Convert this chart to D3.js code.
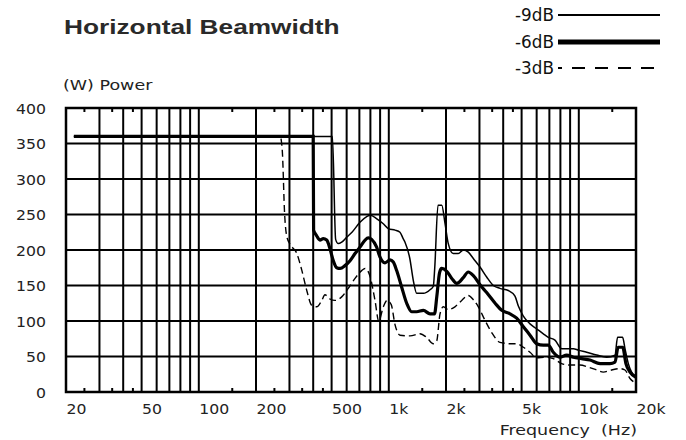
<!DOCTYPE html>
<html>
<head>
<meta charset="utf-8">
<script src="https://cdn.jsdelivr.net/npm/d3@7/dist/d3.min.js"></script>
<style>
  body { margin: 0; background: #fff; }
</style>
</head>
<body>
<div id="chart"></div>
<script>
// Axis values
var yTicks = [0, 50, 100, 150, 200, 250, 300, 350, 400];
var xTickValues = [20, 50, 100, 200, 500, 1000, 2000, 5000, 10000, 20000];
var xTickLabels = ["20", "50", "100", "200", "500", "1k", "2k", "5k", "10k", "20k"];
var minorTicks = [25, 35, 45, 150, 250, 350, 450, 1500, 2500, 3500, 4500, 15000];

// -9dB (thin solid)
var freq9 = [22, 505, 525, 542, 565, 600, 640, 705, 765, 800, 865, 935, 995, 1080, 1145, 1190, 1217,
  1290, 1346, 1402, 1520, 1648, 1715, 1745, 1815, 1900, 1977, 2056, 2184, 2321, 2466, 2620, 2785,
  3020, 3274, 3548, 3846, 4256, 4615, 4806, 5106, 5535, 6000, 6505, 6910, 7490, 8122, 9360, 9937,
  11000, 12430, 14020, 15500, 16000, 17000, 17500, 18220, 18970, 19900];
var pow9 = [360, 360, 215, 209, 211, 218, 225, 239, 247, 249, 244, 237, 230, 228, 225, 216, 211,
  188, 157, 139, 139, 144, 149, 175, 263, 263, 237, 209, 195, 195, 200, 197, 188,
  176, 162, 150, 146, 143, 135, 121, 107, 96, 89, 82, 77, 73, 61, 61, 59,
  56, 52, 49, 52, 77, 77, 61, 40, 28, 23];

// -6dB (thick solid)
var freq6 = [22, 400, 402, 415, 434, 452, 471, 490, 510, 532, 554, 588, 625, 664, 705, 750, 780, 812,
  863, 899, 955, 1015, 1056, 1100, 1168, 1242, 1319, 1402, 1520, 1648, 1740, 1790, 1850, 1897,
  2018, 2145, 2277, 2466, 2620, 2785, 3020, 3274, 3628, 3929, 4345, 4709, 5106, 5535, 6000,
  6505, 6910, 7340, 7960, 8630, 9360, 10350, 11460, 12940, 14590, 15500, 16100, 17020, 17700,
  18600, 19900];
var pow6 = [360, 360, 228, 221, 214, 216, 214, 202, 185, 175, 174, 178, 185, 195, 204, 214, 217, 215,
  204, 190, 182, 186, 183, 171, 148, 125, 113, 113, 115, 110, 110, 135, 168, 174,
  170, 160, 153, 161, 169, 164, 151, 140, 125, 115, 110, 104, 92, 80, 68,
  66, 66, 56, 49, 52, 49, 47, 45, 40, 40, 42, 63, 63, 40,
  28, 21];

// -3dB (dashed)
var freq3 = [22, 268, 275, 283, 290, 302, 327, 348, 370, 393, 417, 444, 461, 490, 521, 565, 612, 664,
  720, 750, 796, 846, 885, 936, 980, 1030, 1078, 1145, 1294, 1459, 1580, 1715, 1787, 1860, 1937,
  2056, 2229, 2421, 2620, 2785, 2960, 3207, 3475, 3846, 4345, 4709, 5106, 5535, 6000, 6640,
  7340, 8122, 8990, 10140, 11220, 12430, 13450, 14900, 16470, 17500, 18600, 19500];
var pow3 = [360, 360, 340, 250, 220, 208, 196, 172, 143, 122, 120, 129, 137, 131, 129, 134, 146, 160,
  171, 174, 163, 129, 100, 120, 129, 123, 95, 80, 79, 82, 77, 68, 72, 110, 120,
  116, 120, 129, 136, 130, 120, 101, 84, 70, 68, 68, 63, 56, 48, 49,
  47, 40, 38, 38, 35, 31, 28, 31, 33, 31, 19, 14];

var legendLabels = ["-9dB", "-6dB", "-3dB"];

// Chart geometry
var width = 686, height = 440;
var plot = { left: 66, right: 636, top: 108, bottom: 392 };

var svg = d3.select("#chart")
  .append("svg")
    .attr("width", width)
    .attr("height", height);

var x = d3.scaleLog()
  .domain([20, 20000])
  .range([plot.left, plot.right]);

var y = d3.scaleLinear()
  .domain([0, 400])
  .range([plot.bottom, plot.top]);

// the source chart is stretched sideways, so text is widened too
function place(sel, px, py, k) {
  return sel.attr("transform", "translate(" + px + "," + py + ") scale(" + (k || 1.25) + ",1)");
}

// Vertical grid (1-9 per decade)
svg.append("g")
  .selectAll("line")
  .data(x.ticks())
  .enter()
  .append("line")
    .attr("x1", d => x(d))
    .attr("x2", d => x(d))
    .attr("y1", plot.top)
    .attr("y2", plot.bottom)
    .style("stroke", "#000")
    .style("stroke-width", 2);

// Horizontal grid
svg.append("g")
  .selectAll("line")
  .data(yTicks)
  .enter()
  .append("line")
    .attr("x1", plot.left)
    .attr("x2", plot.right)
    .attr("y1", d => y(d))
    .attr("y2", d => y(d))
    .style("stroke", "#000")
    .style("stroke-width", 2);

// Minor tick marks at top and bottom
var minor = svg.append("g");
minor.selectAll(".mt")
  .data(minorTicks)
  .enter()
  .append("line")
    .attr("class", "mt")
    .attr("x1", d => x(d))
    .attr("x2", d => x(d))
    .attr("y1", plot.top)
    .attr("y2", plot.top + 4)
    .style("stroke", "#000")
    .style("stroke-width", 2);
minor.selectAll(".mb")
  .data(minorTicks)
  .enter()
  .append("line")
    .attr("class", "mb")
    .attr("x1", d => x(d))
    .attr("x2", d => x(d))
    .attr("y1", plot.bottom - 4)
    .attr("y2", plot.bottom)
    .style("stroke", "#000")
    .style("stroke-width", 2);

// Frame
svg.append("rect")
  .attr("x", plot.left)
  .attr("y", plot.top)
  .attr("width", plot.right - plot.left)
  .attr("height", plot.bottom - plot.top)
  .style("fill", "none")
  .style("stroke", "#000")
  .style("stroke-width", 2.5);

// Curves
function series(fs, ps) {
  return fs.map((f, i) => ({ f: f, p: ps[i] }));
}
var line = d3.line()
  .x(d => x(d.f))
  .y(d => y(d.p))
  .curve(d3.curveMonotoneX);

svg.append("path")
  .datum(series(freq3, pow3))
  .attr("d", line)
  .style("fill", "none")
  .style("stroke", "#000")
  .style("stroke-width", 1.4)
  .style("stroke-dasharray", "7,4");

svg.append("path")
  .datum(series(freq9, pow9))
  .attr("d", line)
  .style("fill", "none")
  .style("stroke", "#000")
  .style("stroke-width", 1.5);

svg.append("path")
  .datum(series(freq6, pow6))
  .attr("d", line)
  .style("fill", "none")
  .style("stroke", "#000")
  .style("stroke-width", 3.2);

// Y tick labels
svg.append("g")
  .selectAll("text")
  .data(yTicks)
  .enter()
  .append("text")
    .attr("transform", d => "translate(46," + (y(d) + 5.5) + ") scale(1.12,1)")
    .attr("text-anchor", "end")
    .style("font-family", "'DejaVu Sans', sans-serif")
    .style("font-size", "14px")
    .style("fill", "#222")
    .text(d => d);

// X tick labels (left aligned on their line)
svg.append("g")
  .selectAll("text")
  .data(xTickValues)
  .enter()
  .append("text")
    .attr("transform", d => "translate(" + (x(d) + 0.5) + ",414) scale(1.12,1)")
    .style("font-family", "'DejaVu Sans', sans-serif")
    .style("font-size", "14px")
    .style("fill", "#222")
    .text((d, i) => xTickLabels[i]);

// Axis titles
place(svg.append("text"), 637, 435)
  .attr("text-anchor", "end")
  .style("font-family", "'DejaVu Sans', sans-serif")
  .style("font-size", "14px")
  .style("fill", "#222")
  .text("Frequency\u00a0\u00a0(Hz)");

place(svg.append("text"), 63, 90)
  .style("font-family", "'DejaVu Sans', sans-serif")
  .style("font-size", "14px")
  .style("fill", "#222")
  .text("(W) Power");

// Title
place(svg.append("text"), 64, 34)
  .style("font-family", "'Liberation Sans', Arial, sans-serif")
  .style("font-size", "21px")
  .style("font-weight", "bold")
  .style("fill", "#2a2a2a")
  .text("Horizontal Beamwidth");

// Legend
var legendY = [15, 42, 68];
var legendWidth = [2, 5, 2];
var legend = svg.append("g");
legendLabels.forEach(function (lab, i) {
  place(legend.append("text"), 554, legendY[i] + 6, 1.1)
    .attr("text-anchor", "end")
    .style("font-family", "'DejaVu Sans Condensed', 'DejaVu Sans', sans-serif")
    .style("font-size", "17px")
    .style("fill", "#111")
    .text(lab);
  var l = legend.append("line")
    .attr("x1", 558)
    .attr("x2", 660)
    .attr("y1", legendY[i])
    .attr("y2", legendY[i])
    .style("stroke", "#000")
    .style("stroke-width", legendWidth[i]);
  if (i == 2) l.style("stroke-dasharray", "13,10").style("stroke-dashoffset", 9);
});
</script>
</body>
</html>
